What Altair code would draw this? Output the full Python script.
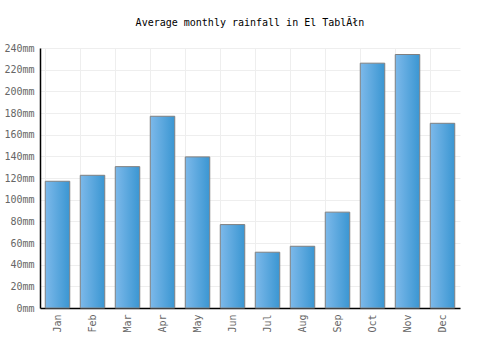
import altair as alt
import pandas as pd

months = ["Jan", "Feb", "Mar", "Apr", "May", "Jun", "Jul", "Aug", "Sep", "Oct", "Nov", "Dec"]
rainfall = [117, 122.5, 130.5, 177, 139.5, 77, 51.5, 57, 88.5, 226, 234, 170.5]
y_ticks = [0, 20, 40, 60, 80, 100, 120, 140, 160, 180, 200, 220, 240]
title_text = "Average monthly rainfall in El TablĂłn"

df = pd.DataFrame({"month": months, "rain": rainfall})

FONT = "DejaVu Sans Mono"

gradient = alt.LinearGradient(
    gradient="linear",
    stops=[alt.GradientStop(color="#7db9ea", offset=0),
           alt.GradientStop(color="#3a96d2", offset=1)],
    x1=0, x2=1, y1=0, y2=0,
)

chart = alt.Chart(df).mark_bar(
    color=gradient, stroke="#808080", strokeWidth=1
).encode(
    x=alt.X("month:N", sort=months, title=None,
            scale=alt.Scale(paddingInner=0.3, paddingOuter=0.15),
            axis=alt.Axis(labelAngle=270, labelFont=FONT, labelFontSize=10,
                          labelColor="#666666", domainColor="#000000", domainWidth=1.5,
                          ticks=False, grid=True, gridColor="#eeeeee",
                          bandPosition=0, labelPadding=6)),
    y=alt.Y("rain:Q", title=None,
            scale=alt.Scale(domain=[0, 240], nice=False),
            axis=alt.Axis(values=y_ticks, labelExpr="datum.value + 'mm'",
                          labelFont=FONT, labelFontSize=10, labelColor="#666666",
                          domainColor="#000000", domainWidth=1.5, ticks=False,
                          gridColor="#eeeeee", labelPadding=6)),
).properties(
    width=420, height=260,
    title=alt.TitleParams(title_text, font=FONT, fontSize=10, fontWeight="normal",
                          color="#000000", anchor="middle", offset=15),
    autosize=alt.AutoSizeParams(type="none"),
    padding={"left": 40, "top": 48, "right": 40, "bottom": 42},
).configure_view(stroke=None)

chart.save("out.html", embed_options={"renderer": "svg", "actions": False})
